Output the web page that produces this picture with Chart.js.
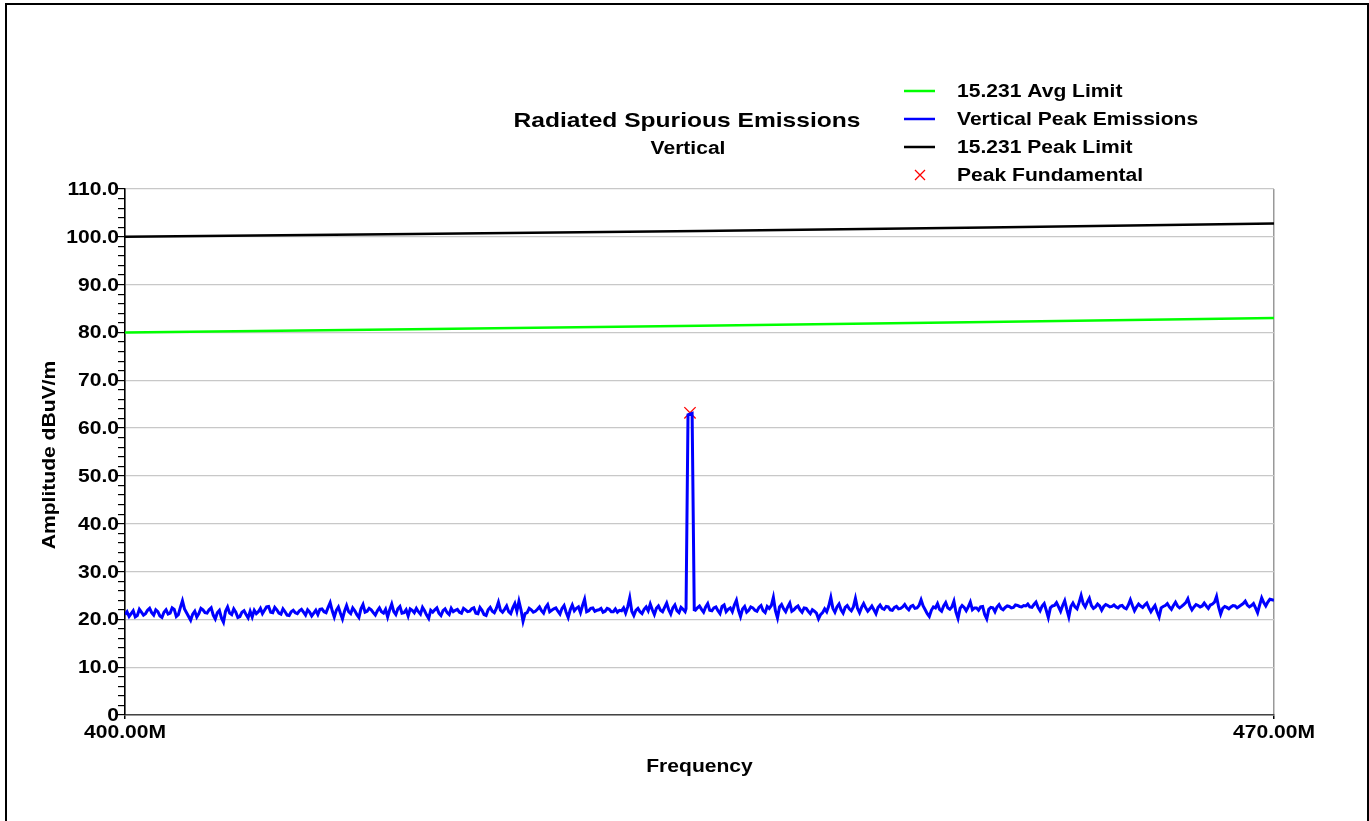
<!DOCTYPE html>
<html>
<head>
<meta charset="utf-8">
<title>Radiated Spurious Emissions</title>
<script src="https://cdn.jsdelivr.net/npm/chart.js@4"></script>
<style>
  html, body { margin: 0; padding: 0; background: #fff; }
  #wrap { position: relative; width: 1369px; height: 821px; }
</style>
</head>
<body>
<div id="wrap"><canvas id="myChart" width="1369" height="821"></canvas></div>
<script>
// sweep of the analyser, 400 - 470 MHz, one reading every 0.25 MHz
const sweepStartMHz = 400;
const sweepStepMHz = 0.25;
const verticalPeak = [
  21.0, 20.6, 21.8, 20.8, 21.5, 21.2, 22.3, 20.9, 21.6, 20.4, 22.0, 21.3, 22.1, 21.0, 23.9, 21.4, 19.8, 21.7, 21.2, 22.0,
  21.3, 22.4, 20.1, 21.9, 19.4, 22.6, 21.0, 21.5, 20.6, 21.8, 20.3, 20.5, 21.2, 22.3, 21.9, 22.7, 21.4, 22.0, 21.1, 21.6,
  20.8, 21.9, 21.2, 22.1, 20.9, 21.5, 21.3, 21.0, 22.2, 21.4, 23.5, 20.5, 22.6, 20.1, 22.9, 21.2, 21.8, 20.4, 23.1, 21.7,
  22.0, 20.9, 22.4, 21.3, 20.5, 23.2, 21.0, 22.7, 21.4, 20.7, 21.9, 22.3, 21.1, 21.8, 20.2, 21.5, 22.4, 20.8, 22.2, 21.0,
  21.6, 22.1, 21.3, 22.0, 21.7, 22.4, 21.2, 21.9, 20.8, 22.5, 21.4, 23.6, 21.5, 22.8, 21.2, 23.3, 23.8, 19.6, 21.4, 22.0,
  21.7, 22.6, 21.3, 23.1, 21.9, 22.4, 21.1, 22.9, 20.4, 23.0, 22.3, 21.4, 24.2, 21.8, 22.4, 21.9, 22.3, 21.7, 22.1, 21.6,
  21.5, 21.8, 21.3, 24.5, 20.8, 22.3, 21.2, 22.6, 23.2, 21.0, 22.8, 21.6, 23.4, 21.1, 23.0, 21.4, 22.1, 62.4, 63.0, 21.9,
  22.8, 21.5, 23.3, 21.8, 22.6, 21.2, 23.0, 22.1, 21.6, 24.0, 20.6, 22.7, 21.9, 22.4, 21.7, 22.9, 21.4, 22.3, 24.6, 20.3,
  23.1, 21.6, 23.4, 22.0, 22.8, 21.5, 22.3, 21.2, 21.7, 20.1, 21.4, 21.6, 24.6, 21.5, 23.2, 21.3, 22.9, 21.8, 24.4, 21.4,
  23.3, 21.7, 22.8, 21.2, 23.0, 22.1, 22.6, 21.9, 22.7, 22.3, 23.1, 22.0, 22.9, 22.4, 24.1, 22.0, 20.6, 22.6, 23.3, 21.7,
  23.5, 22.1, 23.8, 20.2, 22.9, 21.8, 23.6, 22.4, 21.9, 22.7, 20.1, 22.5, 21.6, 23.1, 22.0, 22.8, 22.4, 23.0, 22.7, 22.9,
  23.2, 22.5, 23.6, 21.8, 23.3, 20.4, 22.8, 23.5, 21.7, 23.9, 20.5, 23.4, 22.2, 25.0, 22.6, 24.4, 22.3, 23.2, 21.9, 23.1,
  22.6, 23.0, 22.4, 22.9, 22.2, 24.1, 21.8, 23.2, 22.5, 23.4, 21.6, 22.9, 20.5, 22.7, 23.3, 22.1, 23.6, 22.4, 23.1, 24.3,
  22.0, 23.1, 22.6, 23.4, 22.3, 23.2, 24.8, 21.1, 22.7, 22.2, 22.9, 22.4, 23.0, 23.8, 22.6, 23.3, 21.4, 24.5, 22.8, 24.2,
  24.0,
];
// readings in between the ones above (400.125, 400.375 ... 469.875 MHz)
const verticalPeakMid = [
  21.6, 21.2, 20.5, 22.1, 20.9, 21.9, 21.4, 22.0, 20.7, 21.5, 21.1, 22.4, 20.6, 22.5, 22.2, 20.6, 21.1, 20.5, 22.3, 21.4,
  22.0, 20.9, 21.4, 20.3, 21.7, 21.3, 22.2, 20.4, 21.5, 21.0, 21.7, 21.9, 21.6, 21.2, 22.6, 21.5, 22.5, 21.3, 22.2, 20.9,
  21.6, 21.4, 21.8, 21.5, 22.0, 20.7, 21.9, 22.1, 21.6, 22.5, 21.8, 21.9, 21.3, 21.7, 21.6, 22.4, 21.0, 22.2, 21.5, 22.3,
  21.4, 21.8, 21.6, 22.1, 22.0, 21.6, 22.2, 21.3, 22.0, 22.2, 21.4, 21.6, 22.5, 20.9, 21.9, 22.0, 21.3, 21.8, 21.4, 22.3,
  21.9, 21.5, 22.3, 21.6, 22.2, 21.3, 22.5, 21.0, 22.0, 21.7, 22.3, 21.9, 22.1, 21.6, 22.4, 21.7, 22.0, 21.2, 22.3, 21.5,
  22.1, 21.8, 22.5, 21.6, 22.2, 21.7, 22.3, 21.5, 22.0, 21.8, 22.6, 22.9, 21.6, 22.3, 21.7, 22.0, 21.5, 22.3, 21.6, 22.2,
  21.9, 22.4, 22.6, 21.7, 21.9, 21.6, 22.1, 21.8, 22.0, 22.3, 21.9, 22.5, 22.0, 22.4, 21.8, 22.5, 21.6, 63.0, 40.0, 22.4,
  22.1, 22.6, 21.9, 22.4, 21.8, 22.7, 21.6, 22.4, 23.0, 21.9, 22.2, 21.5, 22.6, 21.9, 22.5, 21.8, 22.7, 22.9, 21.8, 22.6,
  22.2, 22.6, 21.7, 22.5, 22.0, 22.4, 21.7, 22.0, 21.3, 21.0, 22.2, 22.8, 22.3, 22.6, 22.0, 22.5, 22.2, 22.6, 22.3, 22.5,
  22.4, 22.2, 22.0, 22.5, 22.3, 22.7, 22.0, 22.5, 22.2, 22.6, 22.4, 22.7, 22.3, 22.9, 22.8, 21.2, 21.9, 22.4, 22.1, 22.8,
  22.4, 22.6, 21.5, 22.3, 22.5, 22.6, 22.0, 22.4, 22.6, 21.0, 22.1, 22.4, 22.6, 22.3, 22.5, 22.7, 22.5, 22.9, 22.6, 22.8,
  22.6, 23.1, 22.5, 22.8, 21.9, 22.4, 22.9, 22.6, 22.9, 22.1, 22.7, 22.6, 23.5, 23.3, 23.6, 22.9, 22.6, 22.8, 22.7, 22.9,
  22.7, 22.6, 22.8, 22.4, 23.0, 22.9, 22.6, 22.8, 23.0, 22.4, 22.3, 21.6, 22.4, 22.9, 22.6, 22.9, 22.8, 22.7, 23.5, 22.8,
  22.6, 22.9, 22.8, 22.8, 23.0, 23.6, 22.6, 22.3, 22.5, 22.6, 22.8, 22.7, 23.3, 23.0, 22.9, 22.4, 23.0, 23.5, 23.6, 24.1,
];
// the carrier itself, read at finer spacing than the sweep above
const carrierFreqs = [434.18, 434.30, 434.55, 434.68];
const carrierAmps = [22.2, 62.8, 63.1, 22.0];

// limit lines
const limitFreqs = [400, 435, 470];
const avgLimit = [80.0, 81.4, 83.0];
const peakLimit = [100.0, 101.2, 102.8];

// marker
const fundFreq = [434.42];
const fundAmp = [63.2];

const xTickValues = [400, 470];
const xTickLabels = ["400.00M", "470.00M"];
const yTickValues = [0, 10, 20, 30, 40, 50, 60, 70, 80, 90, 100, 110];
const yTickLabels = ["0", "10.0", "20.0", "30.0", "40.0", "50.0", "60.0", "70.0", "80.0", "90.0", "100.0", "110.0"];
const legendLabels = ["15.231 Avg Limit", "Vertical Peak Emissions", "15.231 Peak Limit", "Peak Fundamental"];
const legendColors = ["#00ff00", "#0000ff", "#000000", "#ff0000"];

const FONT = "'Liberation Sans', Arial, Helvetica, sans-serif";
const STRETCH = 1.17; // the original lettering is a bit wider than plain Arial

function sweepPoints() {
  let pts = [];
  const inCarrier = (f) => f > carrierFreqs[0] && f < carrierFreqs[carrierFreqs.length - 1];
  for (let i = 0; i < verticalPeak.length; i++) {
    const f = sweepStartMHz + i * sweepStepMHz;
    if (!inCarrier(f)) pts.push({ x: f, y: verticalPeak[i] });
  }
  for (let i = 0; i < verticalPeakMid.length; i++) {
    const f = sweepStartMHz + sweepStepMHz / 2 + i * sweepStepMHz;
    if (!inCarrier(f)) pts.push({ x: f, y: verticalPeakMid[i] });
  }
  for (let i = 0; i < carrierFreqs.length; i++) {
    pts.push({ x: carrierFreqs[i], y: carrierAmps[i] });
  }
  pts.sort((a, b) => a.x - b.x);
  return pts;
}

function toPoints(xs, ys) {
  return xs.map((x, i) => ({ x: x, y: ys[i] }));
}

function wideText(c, text, x, y, align, rot) {
  c.save();
  c.translate(x, y);
  if (rot) c.rotate(rot);
  c.scale(STRETCH, 1);
  c.textAlign = align;
  c.fillText(text, 0, 0);
  c.restore();
}

// titles, tick labels, legend and outer frame
const decorPlugin = {
  id: "decor",
  afterDraw(chart) {
    const c = chart.ctx;
    const xs = chart.scales.x;
    const ys = chart.scales.y;
    const area = chart.chartArea;
    c.save();
    c.strokeStyle = "#000";
    c.lineWidth = 2;
    c.strokeRect(6, 4, 1362, 830);

    c.fillStyle = "#000";
    c.textBaseline = "middle";
    c.font = "bold 21px " + FONT;
    wideText(c, "Radiated Spurious Emissions", 687, 121, "center");
    c.font = "bold 18px " + FONT;
    wideText(c, "Vertical", 688, 149, "center");

    // tick labels
    for (let i = 0; i < yTickValues.length; i++) {
      wideText(c, yTickLabels[i], 119, ys.getPixelForValue(yTickValues[i]) + 1, "right");
    }
    for (let i = 0; i < xTickValues.length; i++) {
      wideText(c, xTickLabels[i], xs.getPixelForValue(xTickValues[i]), 733, "center");
    }
    // axis titles
    wideText(c, "Frequency", (area.left + area.right) / 2, 767, "center");
    wideText(c, "Amplitude dBuV/m", 50, (area.top + area.bottom) / 2 + 3, "center", -Math.PI / 2);

    // legend
    const rows = [91, 119, 147, 175];
    for (let i = 0; i < legendLabels.length; i++) {
      const y = rows[i];
      c.strokeStyle = legendColors[i];
      if (i < 3) {
        c.lineWidth = 2.5;
        c.beginPath();
        c.moveTo(904, y);
        c.lineTo(935, y);
        c.stroke();
      } else {
        c.lineWidth = 1.3;
        c.beginPath();
        c.moveTo(915, y - 5);
        c.lineTo(925, y + 5);
        c.moveTo(925, y - 5);
        c.lineTo(915, y + 5);
        c.stroke();
      }
      c.fillStyle = "#000";
      wideText(c, legendLabels[i], 957, y + 1, "left");
    }
    c.restore();
  },
};

const ctx = document.getElementById("myChart").getContext("2d");

new Chart(ctx, {
  type: "line",
  data: {
    datasets: [
      {
        label: legendLabels[0],
        data: toPoints(limitFreqs, avgLimit),
        borderColor: legendColors[0],
        borderWidth: 2.5,
        pointRadius: 0,
        tension: 0.4,
      },
      {
        label: legendLabels[1],
        data: sweepPoints(),
        borderColor: legendColors[1],
        borderWidth: 3,
        pointRadius: 0,
      },
      {
        label: legendLabels[2],
        data: toPoints(limitFreqs, peakLimit),
        borderColor: legendColors[2],
        borderWidth: 2.5,
        pointRadius: 0,
        tension: 0.4,
      },
      {
        label: legendLabels[3],
        type: "scatter",
        data: toPoints(fundFreq, fundAmp),
        borderColor: legendColors[3],
        backgroundColor: legendColors[3],
        pointStyle: "crossRot",
        pointRadius: 8,
        borderWidth: 1.3,
      },
    ],
  },
  options: {
    responsive: false,
    animation: false,
    layout: { padding: { left: 36, right: 95, top: 189, bottom: 44 } },
    plugins: {
      legend: { display: false },
      title: { display: false },
      tooltip: { enabled: false },
    },
    scales: {
      x: {
        type: "linear",
        min: xTickValues[0],
        max: xTickValues[1],
        afterBuildTicks: (scale) => {
          scale.ticks = xTickValues.map((v) => ({ value: v }));
        },
        afterFit: (scale) => {
          scale.height = 62;
        },
        ticks: { display: false },
        grid: {
          color: "#999",
          lineWidth: 1.5,
          tickLength: 4,
          tickColor: "#000",
        },
        border: { color: "#444", width: 1.5 },
      },
      y: {
        min: 0,
        max: 110,
        afterFit: (scale) => {
          scale.width = 89;
        },
        ticks: {
          display: false,
          stepSize: 2,
          autoSkip: false,
        },
        grid: {
          color: (c) => (c.tick && c.tick.value % 10 === 0 ? "#c8c8c8" : "rgba(0,0,0,0)"),
          lineWidth: 1.2,
          tickLength: 7,
          tickColor: "#000",
          tickWidth: 1.2,
        },
        border: { color: "#000", width: 1.5 },
      },
    },
  },
  plugins: [decorPlugin],
});
</script>
</body>
</html>
